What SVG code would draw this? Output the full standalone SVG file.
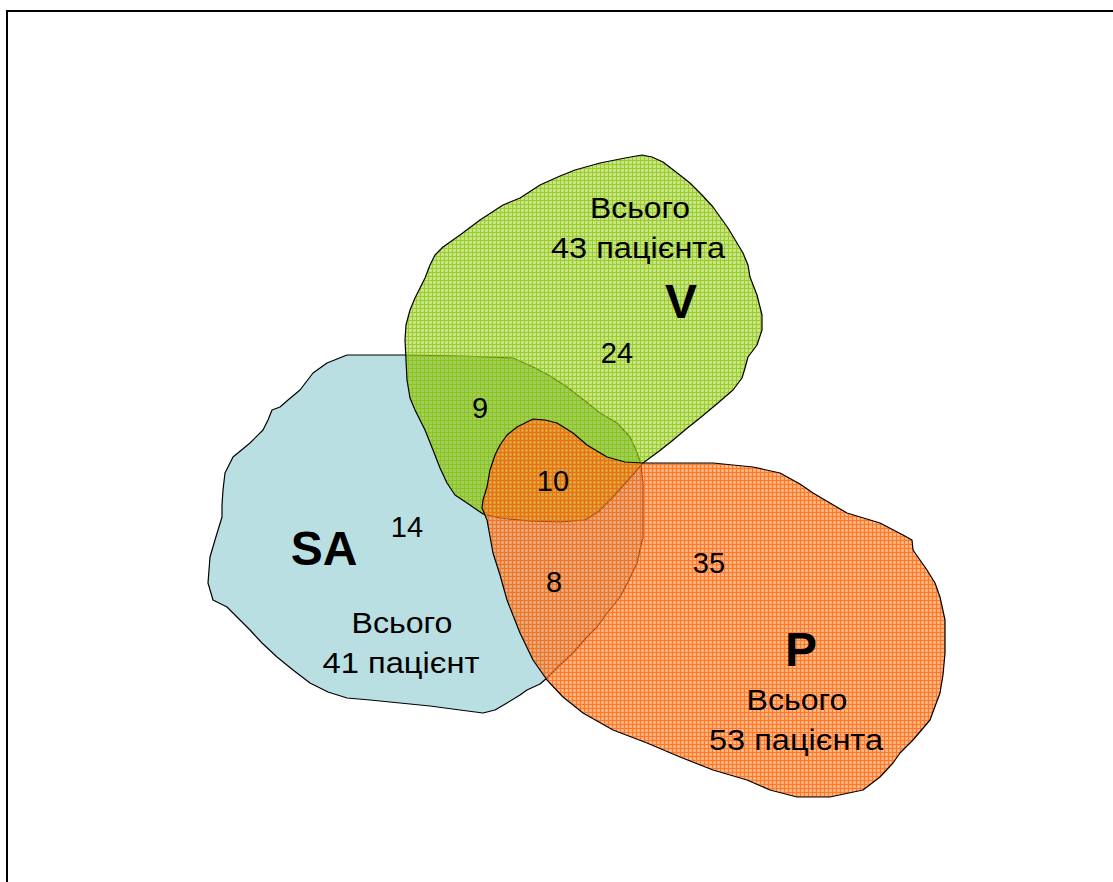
<svg xmlns="http://www.w3.org/2000/svg" width="1113" height="882" viewBox="0 0 1113 882">
  <style>
    .outline { stroke: #000; stroke-width: 1.2; stroke-linejoin: round; }
    .lbl { font-family: "Liberation Sans", Arial, sans-serif; font-size: 29px; fill: #000; text-anchor: middle; }
    .big { font-family: "Liberation Sans", Arial, sans-serif; font-size: 48px; font-weight: bold; fill: #000; text-anchor: middle; }
  </style>
  <defs>
    <!-- fine hatched grid fills -->
    <pattern id="gridGreen" patternUnits="userSpaceOnUse" width="4" height="4">
      <rect width="4" height="4" fill="#a2d030" fill-opacity="0.6"/>
      <path d="M0 0h4v1H0zM0 1h1v3H0z" fill="#80c000" fill-opacity="0.65"/>
    </pattern>
    <pattern id="gridOrange" patternUnits="userSpaceOnUse" width="4" height="4">
      <rect width="4" height="4" fill="#ff7a1e" fill-opacity="0.6"/>
      <path d="M0 0h4v1H0zM0 1h1v3H0z" fill="#ff5a00" fill-opacity="0.65"/>
      <rect x="2" y="2" width="1" height="1" fill="#fff" fill-opacity="0.3"/>
    </pattern>
    <path id="shapeSA" d="M347,355 L403,355 L460,356 L513,358 L533,367 L550,376 L567,387 L590,405 L600,413 L617,423 L630,437 L636,450 L641,464 L643,485 L643,503 L643,537 L637,563 L628,582 L620,597 L608,612 L597,627 L587,637 L573,653 L560,665 L547,678 L540,684 L527,690 L520,695 L507,703 L495,710 L483,713 L460,710 L430,706 L400,703 L370,700 L347,698 L328,692 L310,683 L293,670 L277,657 L262,643 L250,630 L238,618 L227,607 L213,600 L208,583 L209,570 L210,557 L215,540 L222,517 L222,505 L223,490 L225,473 L233,457 L250,443 L263,430 L268,420 L272,410 L280,407 L288,400 L300,390 L313,373 L327,363 Z"/>
    <path id="shapeV" d="M642,155 L652,157 L663,162 L676,172 L690,183 L702,195 L713,207 L728,228 L743,253 L748,265 L750,277 L757,295 L762,315 L762,330 L757,345 L748,357 L745,368 L742,378 L733,390 L718,403 L700,418 L685,430 L672,441 L658,452 L643,463 L630,478 L613,497 L598,512 L585,520 L560,522 L530,521 L500,518 L483,514 L467,503 L455,495 L447,483 L440,468 L433,450 L425,430 L415,410 L410,398 L407,380 L406,360 L405,340 L406,325 L410,310 L415,298 L420,288 L425,278 L430,265 L435,255 L443,247 L460,235 L480,220 L503,205 L520,198 L540,185 L560,176 L575,170 L600,163 L625,158 Z"/>
    <path id="shapeP" d="M483,500 L487,487 L490,470 L495,455 L500,445 L507,435 L517,427 L533,419 L545,420 L557,423 L573,433 L587,445 L607,457 L625,462 L643,463 L680,463 L713,463 L753,467 L780,473 L800,484 L813,493 L830,503 L847,513 L880,523 L903,535 L912,540 L913,550 L927,570 L935,583 L940,597 L945,620 L945,653 L943,675 L940,693 L930,720 L913,740 L900,753 L893,763 L880,777 L863,790 L830,797 L797,797 L770,790 L747,780 L713,770 L680,757 L647,743 L613,730 L583,713 L563,697 L547,680 L533,660 L520,633 L507,600 L500,575 L493,553 L487,520 L482,508 Z"/>
    <clipPath id="clipSA"><use href="#shapeSA"/></clipPath>
  </defs>

  <rect x="0" y="0" width="1113" height="882" fill="#fff"/>
  <!-- outer frame -->
  <rect x="7" y="11" width="1130" height="900" fill="none" stroke="#000" stroke-width="2"/>

  <g id="node-sa">
    <use href="#shapeSA" class="outline" fill="#b9dfe3"/>
  </g>

  <g id="node-v">
    <use href="#shapeV" fill="url(#gridGreen)"/>
    <!-- deeper green where V covers SA -->
    <use href="#shapeV" clip-path="url(#clipSA)" fill="#82b800" fill-opacity="0.25"/>
    <use href="#shapeV" class="outline" fill="none"/>
  </g>

  <g id="node-p">
    <use href="#shapeP" class="outline" fill="url(#gridOrange)"/>
  </g>

  <g id="labels">
    <text class="lbl" x="640" y="218" textLength="100" lengthAdjust="spacingAndGlyphs">Всього</text>
    <text class="lbl" x="638" y="258" textLength="174" lengthAdjust="spacingAndGlyphs">43 пацієнта</text>
    <text class="big" x="681" y="318">V</text>
    <text class="lbl" x="617" y="363">24</text>
    <text class="lbl" x="480" y="418">9</text>
    <text class="lbl" x="553" y="491">10</text>
    <text class="lbl" x="407" y="537">14</text>
    <text class="big" x="324" y="565">SA</text>
    <text class="lbl" x="554" y="592">8</text>
    <text class="lbl" x="709" y="573">35</text>
    <text class="big" x="801" y="666">P</text>
    <text class="lbl" x="402" y="633" textLength="101" lengthAdjust="spacingAndGlyphs">Всього</text>
    <text class="lbl" x="401" y="673" textLength="157" lengthAdjust="spacingAndGlyphs">41 пацієнт</text>
    <text class="lbl" x="797" y="710" textLength="101" lengthAdjust="spacingAndGlyphs">Всього</text>
    <text class="lbl" x="796" y="750" textLength="174" lengthAdjust="spacingAndGlyphs">53 пацієнта</text>
  </g>
</svg>
